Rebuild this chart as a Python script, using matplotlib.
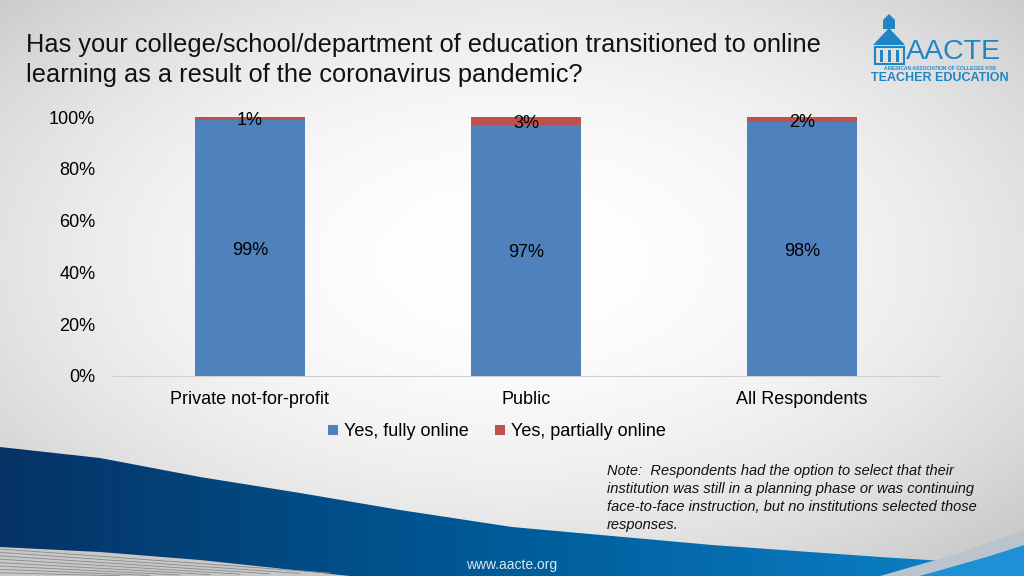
import matplotlib
matplotlib.use("Agg")
import matplotlib.pyplot as plt
import numpy as np
from matplotlib.patches import Polygon, Rectangle

plt.rcParams["font.family"] = ["Liberation Sans", "DejaVu Sans"]

# data
categories = ["Private not-for-profit", "Public", "All Respondents"]
fully_online = [99, 97, 98]
partially_online = [1, 3, 2]
series_names = ["Yes, fully online", "Yes, partially online"]
yticks = [0, 20, 40, 60, 80, 100]

BLUE = "#4f81bd"
RED = "#c0504d"

W, H = 1024, 576
fig = plt.figure(figsize=(W / 100, H / 100), dpi=100)

# background layer in pixel coords
bg = fig.add_axes([0, 0, 1, 1], zorder=0)
bg.set_xlim(0, W)
bg.set_ylim(H, 0)
bg.set_axis_off()

# soft grey vignette
yy, xx = np.mgrid[0:H, 0:W]
r = np.sqrt(((xx - W * 0.5) / (W * 0.6)) ** 2 + ((yy - H * 0.45) / (H * 0.6)) ** 2)
shade = 1.0 - 0.16 * np.clip(r, 0, 1.2) ** 2
bg.imshow(np.dstack([shade] * 3), extent=(0, W, H, 0), aspect="auto", zorder=0)

# blue swoosh along the bottom
top_x = [0, 100, 200, 300, 400, 512, 712, 880, 1024]
top_y = [447, 458, 477, 493, 510, 527, 545, 557, 566]
verts = list(zip(top_x, top_y)) + [(W, H), (0, H)]
swoosh = Polygon(verts, closed=True, facecolor="none", edgecolor="none")
bg.add_patch(swoosh)
grad = np.linspace(0, 1, 256)
c0 = np.array([0.02, 0.20, 0.40])
c1 = np.array([0.00, 0.36, 0.60])
c2 = np.array([0.05, 0.52, 0.80])
cols = np.where(grad[:, None] < 0.5,
                c0 + (c1 - c0) * (grad[:, None] / 0.5),
                c1 + (c2 - c1) * ((grad[:, None] - 0.5) / 0.5))
img = bg.imshow(cols[None, :, :], extent=(0, W, H, 400), aspect="auto", zorder=1)
img.set_clip_path(swoosh)

# grey stripes bottom-left
stripe_top = [(0, 547), (100, 552), (200, 560), (350, 576), (0, 576)]
bg.add_patch(Polygon(stripe_top, closed=True, facecolor="#c8c8c8", edgecolor="none", zorder=2))
for k in range(8):
    y0 = 549 + k * 3.4
    bg.plot([0, 330 - k * 30], [y0, min(576, y0 + 24 - k * 3)], color="#8a8a8a", lw=0.6, zorder=3)

# light arc on the right edge
bg.add_patch(Polygon([(880, 576), (960, 553), (1024, 530), (1024, 545), (960, 566), (920, 576)],
                     closed=True, facecolor="#b9c4cc", edgecolor="none", zorder=2))
bg.add_patch(Polygon([(920, 576), (990, 556), (1024, 545), (1024, 576)],
                     closed=True, facecolor="#1f8fd6", edgecolor="none", zorder=2))

bg.text(512, 565, "www.aacte.org", color="#dde6ee", fontsize=10, ha="center", va="center",
        zorder=4)

# title
bg.text(26, 60, "Has your college/school/department of education transitioned to online\n"
        "learning as a result of the coronavirus pandemic?",
        fontsize=18.3, ha="left", va="center", color="#111111", linespacing=1.3,
        zorder=4)

# logo
LOGO = "#1f86c6"
bg.add_patch(Polygon([(873, 45), (889, 28), (905, 45)], closed=True, facecolor=LOGO, zorder=4))
bg.add_patch(Rectangle((883, 20), 12, 9, facecolor=LOGO, zorder=4))
bg.add_patch(Polygon([(883, 20), (889, 14), (895, 20)], closed=True, facecolor=LOGO, zorder=4))
bg.add_patch(Rectangle((875, 47), 29, 17, facecolor="none", edgecolor=LOGO, lw=1.5, zorder=4))
for cx in [881, 889, 897]:
    bg.add_patch(Rectangle((cx - 1.5, 50), 3, 12, facecolor=LOGO, zorder=4))
bg.text(906, 52, "AACTE", color=LOGO, fontsize=20.5, ha="left", va="center", zorder=4)
bg.text(940, 68, "AMERICAN ASSOCIATION OF COLLEGES FOR", color=LOGO, fontsize=3.6,
        ha="center", va="center", weight="bold", zorder=4)
bg.text(940, 78, "TEACHER EDUCATION", color=LOGO, fontsize=9, ha="center", va="center",
        weight="bold", zorder=4)

# note
bg.text(607, 498,
        "Note:  Respondents had the option to select that their\n"
        "institution was still in a planning phase or was continuing\n"
        "face-to-face instruction, but no institutions selected those\n"
        "responses.",
        fontsize=10.5, style="italic", ha="left", va="center", linespacing=1.35,
        color="#111111", zorder=4)

# chart
ax = fig.add_axes([112 / W, 1 - 376 / H, (940 - 112) / W, (376 - 117) / H], zorder=5)
ax.patch.set_alpha(0)
x = np.arange(len(categories))
b1 = ax.bar(x, fully_online, width=0.4, color=BLUE, label=series_names[0])
b2 = ax.bar(x, partially_online, width=0.4, bottom=fully_online, color=RED, label=series_names[1])

for xi, f, p in zip(x, fully_online, partially_online):
    ax.text(xi, f / 2 - 1, f"{f}%", ha="center", va="center", fontsize=13)
    ax.text(xi, f + p / 2 - 1, f"{p}%", ha="center", va="center", fontsize=13)

ax.set_xlim(-0.5, 2.5)
ax.set_ylim(0, 100)
ax.set_yticks(yticks)
ax.set_yticklabels([f"{t}%" for t in yticks], fontsize=13)
ax.set_xticks(x)
ax.set_xticklabels(categories, fontsize=13)
ax.tick_params(axis="x", length=0, pad=11)
ax.tick_params(axis="y", length=0, pad=12)
for s in ["top", "right", "left"]:
    ax.spines[s].set_visible(False)
ax.spines["bottom"].set_color("#d0d0d0")

ax.legend(loc="upper center", bbox_to_anchor=(0.465, -0.12), ncol=2, frameon=False,
          fontsize=13, handlelength=0.55, handleheight=0.55, handletextpad=0.3,
          columnspacing=1.5)

fig.savefig("out.png", dpi=100)
